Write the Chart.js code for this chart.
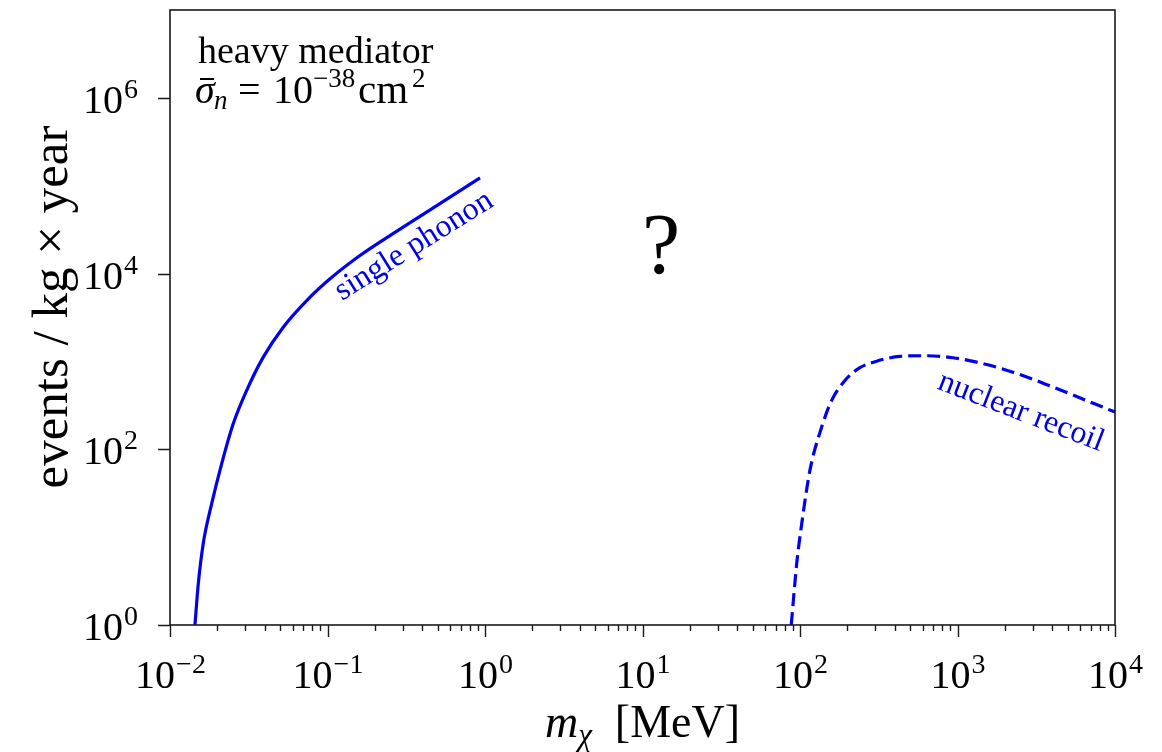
<!DOCTYPE html>
<html>
<head>
<meta charset="utf-8">
<script src="https://cdn.jsdelivr.net/npm/chart.js@4.4.1/dist/chart.umd.min.js"></script>
<style>
  html, body { margin: 0; padding: 0; background: #fff; }
</style>
</head>
<body>
<canvas id="events-chart" width="1162" height="752"></canvas>
<script>
// single phonon (solid)
var phononMass = [0.0144, 0.01513, 0.01626, 0.01841, 0.0213, 0.02523, 0.03069, 0.03909, 0.05236, 0.07379, 0.1038, 0.1607, 0.2606, 0.5, 0.93];
var phononEvents = [1, 2.98, 8.49, 24.2, 68.7, 196, 468, 1119, 2455, 4932, 8710, 16030, 28510, 60260, 123000];

// nuclear recoil (dashed)
var recoilMass = [88, 95.3, 102.6, 115.6, 137.4, 158.9, 193, 240, 307, 431, 638, 936, 1324, 2249, 4036, 10000];
var recoilEvents = [1, 5.0, 14.3, 57.5, 180, 360, 608, 848, 1007, 1140, 1161, 1102, 982, 755, 511, 265];

// tick labels, as powers of ten
var xTickExps = [-2, -1, 0, 1, 2, 3, 4];
var yTickExps = [0, 2, 4, 6];

const SERIF = '"Liberation Serif", "Times New Roman", serif';
const LINE_BLUE = '#0000f0';

function toPoints(xs, ys) {
    let pts = [];
    for (let i = 0; i < xs.length; i++) {
        pts.push({ x: xs[i], y: ys[i] });
    }
    return pts;
}

function expText(e) {
    return e < 0 ? '\u2212' + Math.abs(e) : String(e);
}

// "10" with a raised exponent
function drawPow(ctx, e, px, baseline, align) {
    const baseFont = '40px ' + SERIF;
    const supFont = '28px ' + SERIF;
    ctx.font = baseFont;
    const w1 = ctx.measureText('10').width;
    ctx.font = supFont;
    const sup = expText(e);
    const w2 = ctx.measureText(sup).width;
    let start = px;
    if (align === 'center') start = px - (w1 + w2) / 2;
    if (align === 'right') start = px - (w1 + w2);
    ctx.textAlign = 'left';
    ctx.textBaseline = 'alphabetic';
    ctx.font = baseFont;
    ctx.fillText('10', start, baseline);
    ctx.font = supFont;
    ctx.fillText(sup, start + w1 + 1, baseline - 15);
}

// a run of [text, font, dy] pieces from left to right
function drawRun(ctx, pieces, x, baseline, align) {
    let total = 0;
    pieces.forEach(p => { ctx.font = p[1]; total += ctx.measureText(p[0]).width; });
    let cx = align === 'center' ? x - total / 2 : x;
    ctx.textAlign = 'left';
    ctx.textBaseline = 'alphabetic';
    pieces.forEach(p => {
        ctx.font = p[1];
        ctx.fillText(p[0], cx, baseline + (p[2] || 0));
        cx += ctx.measureText(p[0]).width;
    });
}

const decor = {
    id: 'decor',
    afterDraw(chart) {
        const { ctx, chartArea: a, scales } = chart;
        const xs = scales.x, ys = scales.y;
        ctx.save();

        // frame
        ctx.strokeStyle = '#1a1a1a';
        ctx.lineWidth = 1.6;
        ctx.strokeRect(a.left, a.top, a.right - a.left, a.bottom - a.top);

        // x ticks, major + minor, pointing out
        ctx.lineWidth = 1.4;
        ctx.beginPath();
        for (let k = 0; k < xTickExps.length; k++) {
            const e = xTickExps[k];
            for (let m = 1; m <= 9; m++) {
                if (k === xTickExps.length - 1 && m > 1) break;
                const px = Math.round(xs.getPixelForValue(m * Math.pow(10, e))) + 0.5;
                const len = m === 1 ? 12 : 6;
                ctx.moveTo(px, a.bottom);
                ctx.lineTo(px, a.bottom + len);
            }
        }
        // y ticks, major only
        yTickExps.forEach(e => {
            const py = Math.round(ys.getPixelForValue(Math.pow(10, e))) + 0.5;
            ctx.moveTo(a.left, py);
            ctx.lineTo(a.left - 12, py);
        });
        ctx.stroke();

        // tick labels
        ctx.fillStyle = '#000';
        xTickExps.forEach(e => {
            drawPow(ctx, e, xs.getPixelForValue(Math.pow(10, e)), a.bottom + 63, 'center');
        });
        yTickExps.forEach(e => {
            drawPow(ctx, e, a.left - 33, ys.getPixelForValue(Math.pow(10, e)) + 15, 'right');
        });

        // axis titles
        drawRun(ctx, [
            ['m', 'italic 46px ' + SERIF, 0],
            ['\u03c7', 'italic 31px ' + SERIF, 8],
            ['  [MeV]', '46px ' + SERIF, 0]
        ], (a.left + a.right) / 2, a.bottom + 112, 'center');

        ctx.save();
        ctx.translate(54, 307);
        ctx.rotate(-Math.PI / 2);
        ctx.font = '51px ' + SERIF;
        ctx.textAlign = 'center';
        ctx.textBaseline = 'middle';
        ctx.fillText('events / kg \u00d7 year', 0, 0);
        ctx.restore();

        // annotation text, top left
        ctx.font = '38px ' + SERIF;
        ctx.textAlign = 'left';
        ctx.textBaseline = 'alphabetic';
        ctx.fillText('heavy mediator', a.left + 28, a.top + 53);

        const b2 = a.top + 93;
        ctx.font = 'italic 40px ' + SERIF;
        ctx.fillText('\u03c3', 195, b2);
        ctx.fillRect(200, b2 - 25, 14, 2);
        ctx.font = 'italic 27px ' + SERIF;
        ctx.fillText('n', 214, b2 + 6);
        ctx.font = '40px ' + SERIF;
        ctx.fillText('=', 238, b2);
        ctx.fillText('10', 273, b2);
        ctx.font = '27px ' + SERIF;
        ctx.fillText('\u221238', 313, b2 - 16);
        ctx.font = '41px ' + SERIF;
        ctx.fillText('cm', 358, b2);
        ctx.font = '27px ' + SERIF;
        ctx.fillText('2', 412, b2 - 16);

        ctx.font = '86px ' + SERIF;
        ctx.textAlign = 'center';
        ctx.fillText('?', 661, 273);

        // curve labels
        ctx.fillStyle = '#0000e0';
        ctx.font = '32px ' + SERIF;
        ctx.textBaseline = 'middle';
        ctx.save();
        ctx.translate(414, 246);
        ctx.rotate(-32 * Math.PI / 180);
        ctx.fillText('single phonon', 0, 0);
        ctx.restore();

        ctx.save();
        ctx.translate(1021, 412);
        ctx.rotate(21 * Math.PI / 180);
        ctx.fillText('nuclear recoil', 0, 0);
        ctx.restore();

        ctx.restore();
    }
};

const ctx = document.getElementById('events-chart');

new Chart(ctx, {
    type: 'line',
    data: {
        datasets: [
            {
                label: 'single phonon',
                data: toPoints(phononMass, phononEvents),
                borderColor: LINE_BLUE,
                borderWidth: 3.2,
                pointRadius: 0,
                fill: false,
                cubicInterpolationMode: 'monotone'
            },
            {
                label: 'nuclear recoil',
                data: toPoints(recoilMass, recoilEvents),
                borderColor: LINE_BLUE,
                borderWidth: 3.2,
                borderDash: [13, 6],
                pointRadius: 0,
                fill: false,
                cubicInterpolationMode: 'monotone'
            }
        ]
    },
    options: {
        responsive: false,
        animation: false,
        layout: {
            padding: { left: 170, right: 47, top: 10, bottom: 127 }
        },
        scales: {
            x: {
                type: 'logarithmic',
                min: 0.01,
                max: 10000,
                display: false
            },
            y: {
                type: 'logarithmic',
                min: 1,
                max: 1e7,
                display: false
            }
        },
        plugins: {
            legend: { display: false },
            tooltip: { enabled: false }
        }
    },
    plugins: [decor]
});
</script>
</body>
</html>
